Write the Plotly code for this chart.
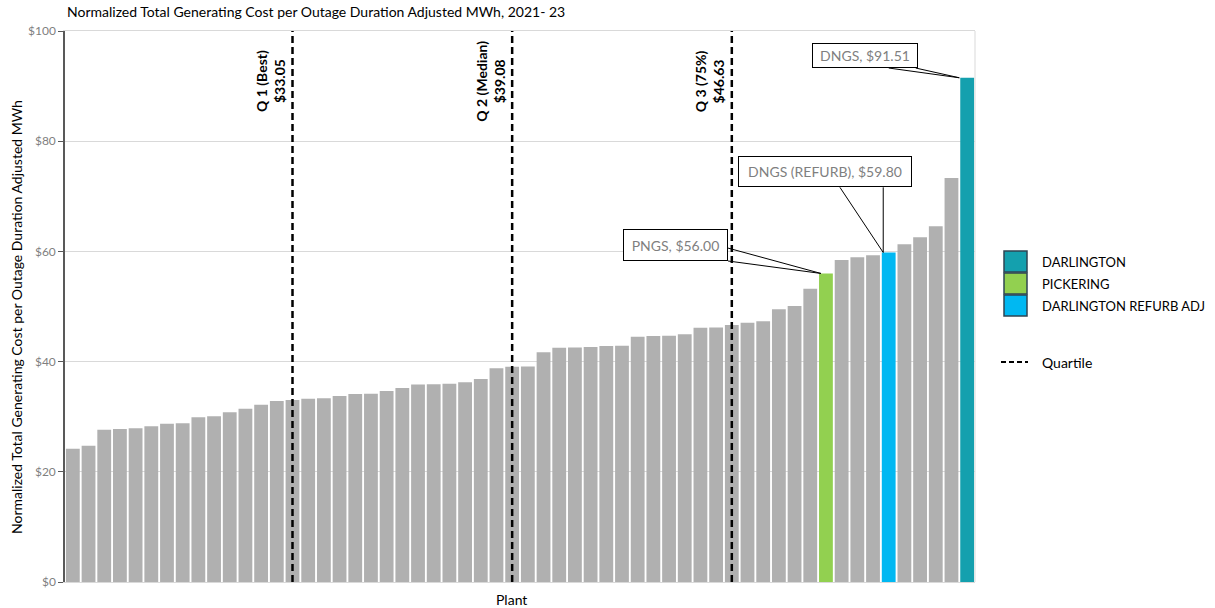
import plotly.graph_objects as go

# Normalized total generating cost per outage-duration-adjusted MWh ($/MWh), sorted ascending
costs = [
    24.19, 24.74, 27.64, 27.77, 27.89, 28.26, 28.73, 28.80, 29.89, 30.07,
    30.80, 31.45, 32.18, 32.85, 33.05, 33.27, 33.34, 33.76, 34.12, 34.17,
    34.66, 35.21, 35.86, 35.90, 35.99, 36.24, 36.84, 38.78, 39.08, 39.12,
    41.69, 42.52, 42.55, 42.65, 42.83, 42.89, 44.52, 44.65, 44.68, 44.95,
    46.15, 46.18, 46.63, 47.06, 47.31, 49.49, 50.09, 53.23, 56.00, 58.44,
    58.93, 59.29, 59.80, 61.29, 62.56, 64.55, 73.32, 91.51,
]

# Highlighted plants: legend name, bar position, callout label
highlight_names = ["DARLINGTON", "PICKERING", "DARLINGTON REFURB ADJ"]
highlight_index = [57, 48, 52]
highlight_colors = ["#14A0AE", "#92D050", "#00B8F2"]
callout_names = ["DNGS", "PNGS", "DNGS (REFURB)"]
other_color = "#B0B0B0"

# Quartile markers
quartile_names = ["Q 1 (Best)", "Q 2 (Median)", "Q 3 (75%)"]
quartile_values = [33.05, 39.08, 46.63]

title_text = "Normalized Total Generating Cost per Outage Duration Adjusted MWh, 2021- 23"
y_title = "Normalized Total Generating Cost per Outage Duration Adjusted MWh"
x_title = "Plant"
y_ticks = [0, 20, 40, 60, 80, 100]
y_ticktext = [f"${v}" for v in y_ticks]

FONT = "Lato"
W, H = 1215, 608
L, R, T, B = 65, 240, 31, 26
PW, PH = W - L - R, H - T - B

def px_x(px):
    return (px - L) / PW

def px_y(py):
    return (H - B - py) / PH

positions = list(range(len(costs)))
colors = [other_color] * len(costs)
for idx, col in zip(highlight_index, highlight_colors):
    colors[idx] = col

fig = go.Figure()
fig.add_trace(go.Bar(
    x=positions, y=costs,
    marker=dict(color=colors, line=dict(width=0)),
    showlegend=False, hoverinfo="skip",
))

shapes = []
annotations = []

# Quartile lines and their rotated labels
for name, val in zip(quartile_names, quartile_values):
    qx = costs.index(val)
    shapes.append(dict(type="line", xref="x", yref="paper", x0=qx, x1=qx, y0=0, y1=1,
                       line=dict(color="black", width=2.5, dash="7px,4px"), layer="above"))
    annotations.append(dict(
        xref="x", yref="paper", x=qx, y=px_y(81), xanchor="right", yanchor="middle",
        xshift=-3, textangle=-90, showarrow=False, align="center",
        text=f"<b>{name}<br>${val:.2f}</b>",
        font=dict(family=FONT, size=14, color="black"),
    ))

# Callouts: box offset from bar top (dx, dy in data units), box size (px),
# wedge base points relative to the bar top, and tip offset along x
callout_specs = {
    "DARLINGTON": dict(dx=-6.51, dy=4.04, w=106, h=25,
                       base=[(-5.0, 1.77), (-3.28, 1.77)], tip=-0.5),
    "PICKERING": dict(dx=-9.59, dy=5.16, w=105, h=32,
                      base=[(-6.24, 4.6), (-6.24, 2.26)], tip=-0.32),
    "DARLINGTON REFURB ADJ": dict(dx=-4.06, dy=14.7, w=174, h=31,
                                  base=[(-3.11, 11.83), (-0.35, 11.83)], tip=-0.35),
}

for name, idx, short in zip(highlight_names, highlight_index, callout_names):
    val = costs[idx]
    spec = callout_specs[name]
    tx, ty = idx + spec["tip"], val
    (b1x, b1y), (b2x, b2y) = spec["base"]
    path = f"M {idx + b1x} {val + b1y} L {tx} {ty} L {idx + b2x} {val + b2y}"
    shapes.append(dict(type="path", xref="x", yref="y", path=path,
                       line=dict(color="black", width=1), layer="above"))
    annotations.append(dict(
        xref="x", yref="y", x=idx + spec["dx"], y=val + spec["dy"],
        xanchor="center", yanchor="middle", showarrow=False,
        text=f"{short}, ${val:.2f}",
        width=spec["w"] - 2, height=spec["h"] - 2, borderpad=0,
        bordercolor="black", borderwidth=1, bgcolor="white",
        font=dict(family=FONT, size=14, color="#7F7F7F"),
    ))

# Right edge of the plot frame
shapes.append(dict(type="line", xref="paper", yref="paper", x0=1, x1=1, y0=0, y1=1,
                   line=dict(color="#D9D9D9", width=1), layer="below"))

# Legend drawn as swatches with labels
legend_tops = [251, 273, 295]
for name, col, top in zip(highlight_names, highlight_colors, legend_tops):
    shapes.append(dict(type="rect", xref="paper", yref="paper",
                       x0=px_x(1004), x1=px_x(1027), y0=px_y(top + 21), y1=px_y(top),
                       fillcolor=col, line=dict(color="#2E4453", width=1.5)))
    annotations.append(dict(xref="paper", yref="paper", x=px_x(1040), y=px_y(top + 10.5),
                            xanchor="left", yanchor="middle", showarrow=False, text=name,
                            font=dict(family=FONT, size=13, color="black")))
shapes.append(dict(type="line", xref="paper", yref="paper",
                   x0=px_x(1001), x1=px_x(1028), y0=px_y(362), y1=px_y(362),
                   line=dict(color="black", width=2, dash="5px,3px")))
annotations.append(dict(xref="paper", yref="paper", x=px_x(1040), y=px_y(362),
                        xanchor="left", yanchor="middle", showarrow=False, text="Quartile",
                        font=dict(family=FONT, size=14, color="black")))

# Titles
annotations.append(dict(xref="paper", yref="paper", x=0, y=px_y(12), xanchor="left",
                        yanchor="middle", showarrow=False, text=title_text,
                        font=dict(family=FONT, size=14, color="black")))
annotations.append(dict(xref="paper", yref="paper", x=px_x(16), y=px_y(317), xanchor="center",
                        yanchor="middle", showarrow=False, text=y_title, textangle=-90,
                        font=dict(family=FONT, size=14, color="black")))
annotations.append(dict(xref="paper", yref="paper", x=px_x(511), y=px_y(599), xanchor="center",
                        yanchor="middle", showarrow=False, text=x_title,
                        font=dict(family=FONT, size=14, color="black")))

fig.update_layout(
    width=W, height=H,
    margin=dict(l=L, r=R, t=T, b=B, pad=0),
    plot_bgcolor="white", paper_bgcolor="white",
    bargap=0.12,
    font=dict(family=FONT),
    shapes=shapes, annotations=annotations,
    xaxis=dict(range=[-0.5, len(costs) - 0.5], showticklabels=False, ticks="",
               showgrid=False, zeroline=False, showline=True, linecolor="#D9D9D9",
               linewidth=1, mirror=True),
    yaxis=dict(range=[0, 100], tickvals=y_ticks, ticktext=y_ticktext,
               tickfont=dict(family=FONT, size=12, color="#7F7F7F"),
               showgrid=True, gridcolor="#D9D9D9", gridwidth=1, zeroline=False,
               showline=True, linecolor="#595959", linewidth=1.5,
               ticks="outside", ticklen=5, tickcolor="#595959"),
)

fig.write_html("out.html")
